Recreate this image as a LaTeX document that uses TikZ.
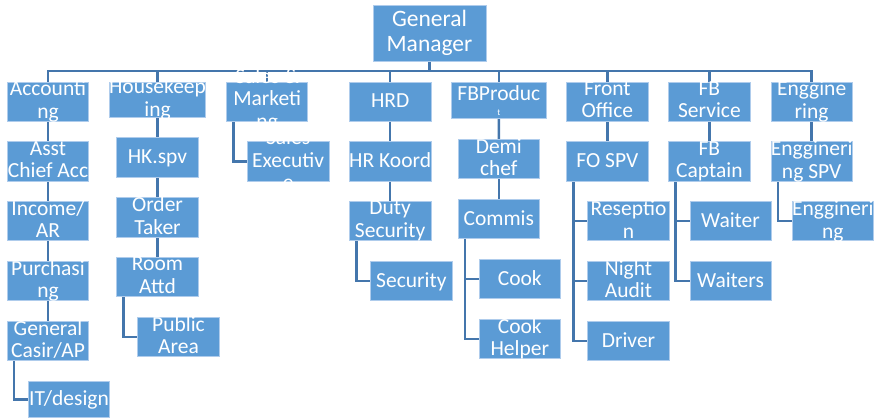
\documentclass[tikz,border=0pt]{standalone}
\usepackage{fontspec}
\setmainfont{Carlito}
\usetikzlibrary{calc}
\pgfdeclarelayer{bg}
\pgfsetlayers{bg,main}
\definecolor{boxfill}{RGB}{91,155,213}
\definecolor{boxedge}{RGB}{175,204,236}
\definecolor{linec}{RGB}{68,118,172}
\newcommand\orgbox[5]{%
  \node[orgb, minimum width={#4pt-#2pt}, minimum height={#5pt-#3pt}] (#1) at ({(#2+#4)/2},{(#3+#5)/2}) {};}
\newcommand\orgtext[2]{\node[orgt] (#1-t) at (#1.center) {#2};}
\begin{document}
\begin{tikzpicture}[x=1pt,y=-1pt,
  orgb/.style={fill=boxfill, draw=boxedge, line width=0.8pt, inner sep=0pt, outer sep=0pt},
  orgt/.style={text=white, align=center, inner sep=0pt, font=\fontsize{21.5}{22.5}\selectfont,
    execute at begin node={\rule{0pt}{16pt}}, execute at end node={\rule[-3.5pt]{0pt}{3.5pt}}},
  gmt/.style={text=white, align=center, inner sep=0pt, font=\fontsize{23.5}{25.5}\selectfont,
    execute at begin node={\rule{0pt}{18.5pt}}, execute at end node={\rule[-3.3pt]{0pt}{3.3pt}}},
  link/.style={draw=linec, line width=2.4pt}]
\useasboundingbox (0,0) rectangle (882,418);
% boxes
\orgbox{gm}{373}{5}{486}{61}
\orgbox{acc}{7.3}{82}{88.7}{121}
\orgbox{hk}{109.3}{82}{205.7}{117}
\orgbox{sm}{226.7}{82}{307.7}{121}
\orgbox{hrd}{349.3}{82}{431}{121}
\orgbox{fbp}{451.7}{82}{546}{118.7}
\orgbox{fo}{566.7}{82}{648}{121}
\orgbox{fbs}{668.7}{82}{750}{121}
\orgbox{eng}{771}{82}{852.3}{121}
\orgbox{aca}{7.3}{141.7}{88.7}{181}
\orgbox{hks}{116.7}{137.7}{198.3}{177}
\orgbox{se}{247.3}{141.7}{329}{181}
\orgbox{hrk}{349.3}{141.7}{431}{181}
\orgbox{dc}{458.3}{139.3}{539.3}{178.7}
\orgbox{fos}{566.7}{141.7}{648}{181}
\orgbox{fbc}{668.7}{141.7}{750}{181}
\orgbox{engs}{771}{141.7}{852.3}{181}
\orgbox{inc}{7.3}{201}{88.7}{240.7}
\orgbox{pur}{7.3}{261.7}{88.7}{300.3}
\orgbox{gc}{7.3}{321.3}{88.7}{360.7}
\orgbox{it}{28.3}{381.7}{109.7}{417.3}
\orgbox{ot}{116.7}{197.7}{198.3}{237}
\orgbox{ra}{116.7}{257.3}{198.3}{296.7}
\orgbox{pa}{137.7}{317.3}{219.3}{356.7}
\orgbox{ds}{349.3}{201}{431}{240.7}
\orgbox{sec}{370.7}{261.7}{452}{300.3}
\orgbox{com}{458.3}{199.3}{539.3}{238.3}
\orgbox{cook}{479.3}{259.3}{560.3}{298.3}
\orgbox{ch}{479.3}{319.3}{560.3}{358.3}
\orgbox{res}{587.7}{201.7}{669.3}{240.7}
\orgbox{na}{587.7}{261.7}{669.3}{300.3}
\orgbox{drv}{587.7}{321.7}{669.3}{360.3}
\orgbox{wt}{690}{201.7}{771}{240.7}
\orgbox{wts}{690}{261.7}{771}{300.3}
\orgbox{eng3}{792.3}{201.7}{873.3}{240.7}
% connectors
\begin{pgfonlayer}{bg}
\foreach \c in {acc,hk,sm,hrd,fbp,fo,fbs,eng}
  \draw[link] (gm.south) -- ++(0,10) -| (\c.north);
\draw[link] (acc.south) -- (aca.north);
\draw[link] (aca.south) -- (inc.north);
\draw[link] (inc.south) -- (pur.north);
\draw[link] (pur.south) -- (gc.north);
\draw[link] ([xshift=6.7pt]gc.south west) |- (it.west);
\draw[link] (hk.south) -- (hks.north);
\draw[link] (hks.south) -- (ot.north);
\draw[link] (ot.south) -- (ra.north);
\draw[link] ([xshift=6.7pt]ra.south west) |- (pa.west);
\draw[link] ([xshift=6.7pt]sm.south west) |- (se.west);
\draw[link] (hrd.south) -- (hrk.north);
\draw[link] (hrk.south) -- (ds.north);
\draw[link] ([xshift=7.3pt]ds.south west) |- (sec.west);
\draw[link] (fbp.south) -- (dc.north);
\draw[link] (dc.south) -- (com.north);
\draw[link] ([xshift=6.7pt]com.south west) |- (cook.west);
\draw[link] ([xshift=6.7pt]com.south west) |- (ch.west);
\draw[link] (fo.south) -- (fos.north);
\draw[link] ([xshift=6.7pt]fos.south west) |- (res.west);
\draw[link] ([xshift=6.7pt]fos.south west) |- (na.west);
\draw[link] ([xshift=6.7pt]fos.south west) |- (drv.west);
\draw[link] (fbs.south) -- (fbc.north);
\draw[link] ([xshift=6.7pt]fbc.south west) |- (wt.west);
\draw[link] ([xshift=6.7pt]fbc.south west) |- (wts.west);
\draw[link] (eng.south) -- (engs.north);
\draw[link] ([xshift=6.7pt]engs.south west) |- (eng3.west);
\end{pgfonlayer}
% texts
\node[gmt] (gm-t) at (gm.center) {General\\Manager};
\orgtext{acc}{Accounti\\ng}
\orgtext{hk}{Housekeep\\ing}
\node[orgt] (sm-t) at ($(sm.center)+(0,-1.2)$) {Sales \&\\Marketi\\ng};
\orgtext{hrd}{HRD}
\node[orgt] (fbp-t) at ($(fbp.center)+(0,-6.6)$) {FBProduc};
\node[text=white, inner sep=0pt, font=\fontsize{9}{9}\selectfont] (fbp-t2) at ($(fbp.center)+(0,12.5)$) {t};
\orgtext{fo}{Front\\Office}
\orgtext{fbs}{FB\\Service}
\orgtext{eng}{Enggine\\ring}
\orgtext{aca}{Asst\\Chief Acc}
\orgtext{hks}{HK.spv}
\node[orgt] (se-t) at ($(se.center)+(0,0.4)$) {Sales\\Executiv\\e};
\orgtext{hrk}{HR Koord}
\orgtext{dc}{Demi\\chef}
\orgtext{fos}{FO SPV}
\orgtext{fbc}{FB\\Captain}
\orgtext{engs}{Enggineri\\ng SPV}
\orgtext{inc}{Income/\\AR}
\orgtext{pur}{Purchasi\\ng}
\orgtext{gc}{General\\Casir/AP}
\orgtext{it}{IT/design}
\orgtext{ot}{Order\\Taker}
\orgtext{ra}{Room\\Attd}
\orgtext{pa}{Public\\Area}
\orgtext{ds}{Duty\\Security}
\orgtext{sec}{Security}
\orgtext{com}{Commis}
\orgtext{cook}{Cook}
\orgtext{ch}{Cook\\Helper}
\orgtext{res}{Reseptio\\n}
\orgtext{na}{Night\\Audit}
\orgtext{drv}{Driver}
\orgtext{wt}{Waiter}
\orgtext{wts}{Waiters}
\orgtext{eng3}{Enggineri\\ng}
\end{tikzpicture}
\end{document}
